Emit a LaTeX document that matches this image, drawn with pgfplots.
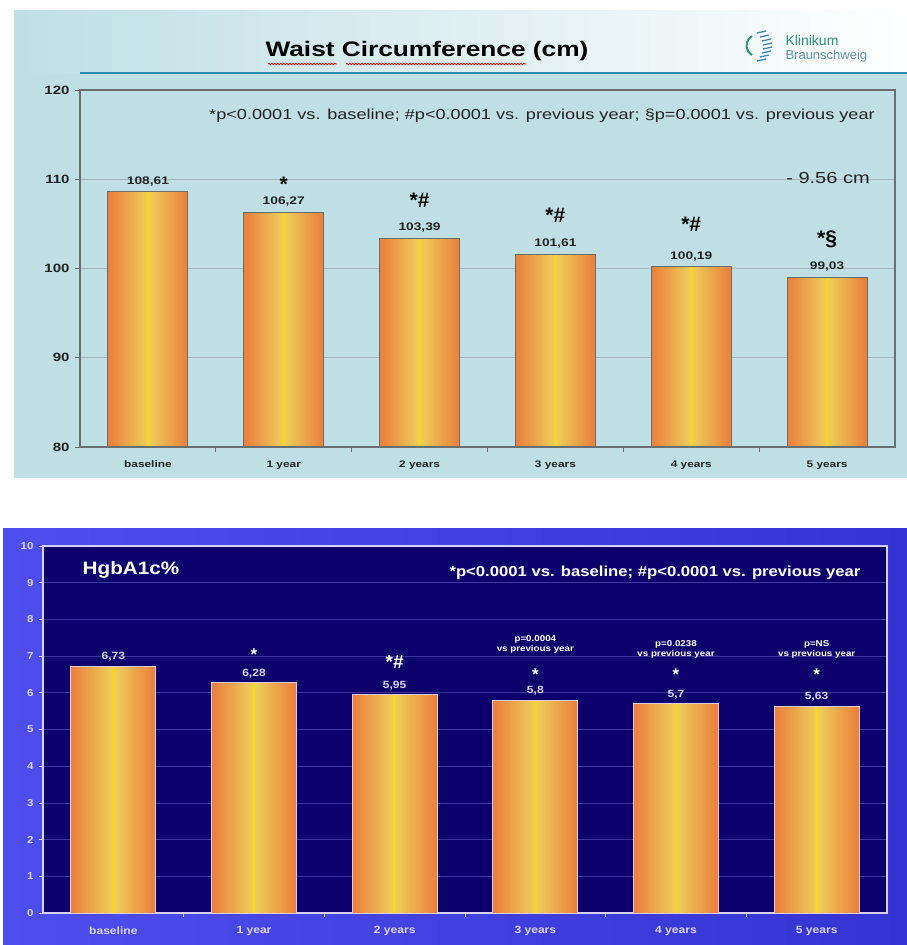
\documentclass[border=0pt]{standalone}
\usepackage{fontspec}
\setmainfont{Liberation Sans}
\newfontfamily\topf[FakeStretch=1.25]{Liberation Sans}
\newfontfamily\botf[FakeStretch=1.15]{Liberation Sans}
\usepackage{pgfplots}
\usepackage{pgfplotstable}
\pgfplotsset{compat=1.18}
\pgfkeys{/pgf/number format/assume math mode=true}
\usetikzlibrary{decorations.pathmorphing}

\definecolor{panelblue}{RGB}{191,223,229}
\definecolor{tealline}{RGB}{36,140,170}
\definecolor{barorange}{RGB}{234,126,60}
\definecolor{baryellow}{RGB}{238,208,92}
\definecolor{stripe}{RGB}{250,212,40}
\definecolor{topframe}{RGB}{105,110,112}
\definecolor{topgrid}{RGB}{165,185,190}
\definecolor{toptext}{RGB}{35,35,35}
\definecolor{botL}{RGB}{78,78,236}
\definecolor{botR}{RGB}{52,52,210}
\definecolor{navy}{RGB}{12,0,108}
\definecolor{botgrid}{RGB}{60,50,160}
\definecolor{lavender}{RGB}{215,210,245}
\definecolor{botbarline}{RGB}{225,205,225}
\definecolor{logogreen}{RGB}{40,150,120}
\definecolor{logogray}{RGB}{95,150,165}
\definecolor{logoblue}{RGB}{60,130,190}

\pgfplotstableread{
x  waist
0  108.61
1  106.27
2  103.39
3  101.61
4  100.19
5  99.03
}\waisttable

\pgfplotstableread{
x  hba
0  6.73
1  6.28
2  5.95
3  5.8
4  5.7
5  5.63
}\hbatable

\pgfplotsset{
  gradbar/.style={bar shift=0pt, draw=none, left color=barorange, right color=barorange, middle color=baryellow},
}

\begin{document}
\begin{tikzpicture}[x=1pt,y=1pt]
\useasboundingbox (0,0) rectangle (907,-945);
\fill[white] (0,0) rectangle (907,-945);

% ---------- upper slide: waist circumference ----------
\fill[panelblue] (14,-10) rectangle (907,-478);
\shade[left color=panelblue, right color=white] (14,-10) rectangle (907,-73);
\draw[tealline, line width=1.6pt] (80,-73) -- (907,-73);

\node[font=\topf\bfseries\fontsize{21}{24}\selectfont, text=black] at (427,-51) {Waist Circumference (cm)};
\draw[red, line width=0.7pt, decorate, decoration={snake, amplitude=0.8pt, segment length=3pt}] (268,-64) -- (337,-64);
\draw[red, line width=0.7pt, decorate, decoration={snake, amplitude=0.8pt, segment length=3pt}] (346,-64) -- (526,-64);

% hospital logo
\draw[logogreen, line width=2pt] (752,-36) arc (120:240:11);
\foreach \yy/\xx in {33/757,37/760,41/762,45/763,49/763,53/762,57/760,61/757}
  \draw[logoblue, line width=1.3pt] (\xx,-\yy) -- ++(9,2);
\node[anchor=west, font=\fontsize{14}{16}\selectfont, text=logogreen] at (782,-40) {Klinikum};
\node[anchor=west, font=\fontsize{13}{15}\selectfont, text=logogray] at (782,-56) {Braunschweig};

\begin{axis}[
  at={(80pt,-447pt)}, anchor=south west,
  scale only axis, width=815pt, height=357pt,
  xmin=-0.5, xmax=5.5, ymin=80, ymax=120,
  ytick={80,90,100,110,120},
  xtick={0,1,2,3,4,5},
  xticklabels={baseline,1 year,2 years,3 years,4 years,5 years},
  minor xtick={0.5,1.5,2.5,3.5,4.5},
  major x tick style={draw=none},
  minor tick length=5pt, major tick length=5pt,
  tick align=outside, xtick pos=bottom, ytick pos=left,
  y tick style={topframe, line width=1pt},
  minor x tick style={topframe, line width=1pt},
  ymajorgrids, grid style={topgrid, line width=0.8pt},
  axis line style={topframe, line width=1.3pt},
  ticklabel style={font=\topf\bfseries, text=toptext},
  yticklabel style={font=\topf\bfseries\fontsize{12}{12}\selectfont, xshift=-2pt},
  xticklabel style={font=\topf\bfseries\fontsize{9.5}{10}\selectfont, yshift=-5pt},
  ybar, bar width=80pt,
]
% one shaded bar per time point
\addplot[gradbar] coordinates {(0,108.61)};
\addplot[gradbar] coordinates {(1,106.27)};
\addplot[gradbar] coordinates {(2,103.39)};
\addplot[gradbar] coordinates {(3,101.61)};
\addplot[gradbar] coordinates {(4,100.19)};
\addplot[gradbar] coordinates {(5,99.03)};
\addplot[bar shift=0pt, bar width=3pt, draw=none, fill=stripe]
  table[x=x, y=waist] {\waisttable};
\addplot[bar shift=0pt, draw=topframe, line width=1.1pt, fill=none,
  nodes near coords={\pgfmathprintnumber[use comma, fixed, precision=2]{\pgfplotspointmeta}},
  every node near coord/.append style={font=\topf\bfseries\fontsize{11}{12}\selectfont, text=toptext, yshift=2pt}]
  table[x=x, y=waist] {\waisttable};

\node[font=\bfseries\fontsize{21}{21}\selectfont] at (axis cs:1,109.4) {*};
\node[font=\bfseries\fontsize{21}{21}\selectfont] at (axis cs:2,107.6) {*\#};
\node[font=\bfseries\fontsize{21}{21}\selectfont] at (axis cs:3,106.0) {*\#};
\node[font=\bfseries\fontsize{21}{21}\selectfont] at (axis cs:4,104.9) {*\#};
\node[font=\bfseries\fontsize{21}{21}\selectfont] at (axis cs:5,103.3) {*\S};
\end{axis}

\node[font=\topf\fontsize{14.5}{16}\selectfont, text=toptext] at (542,-116)
  {*p<0.0001 vs. baseline; \#p<0.0001 vs. previous year; \S p=0.0001 vs. previous year};
\node[font=\topf\fontsize{16}{17}\selectfont, text=toptext] at (828,-178) {- 9.56 cm};

% ---------- lower slide: HbA1c ----------
\shade[left color=botL, right color=botR] (3,-528) rectangle (907,-945);

\begin{axis}[
  at={(43pt,-913pt)}, anchor=south west,
  scale only axis, width=844pt, height=367pt,
  xmin=-0.5, xmax=5.5, ymin=0, ymax=10,
  ytick={0,1,...,10},
  xtick={0,1,2,3,4,5},
  xticklabels={baseline,1 year,2 years,3 years,4 years,5 years},
  minor xtick={0.5,1.5,2.5,3.5,4.5},
  major x tick style={draw=none},
  minor tick length=4pt, major tick length=4pt,
  tick align=outside, xtick pos=bottom, ytick pos=left,
  y tick style={lavender, line width=0.8pt},
  minor x tick style={lavender, line width=0.8pt},
  axis background/.style={fill=navy},
  ymajorgrids, grid style={botgrid, line width=0.8pt},
  axis line style={lavender, line width=1.1pt},
  yticklabel style={font=\botf\bfseries\fontsize{10}{10}\selectfont, text=lavender, xshift=-2pt},
  xticklabel style={font=\botf\bfseries\fontsize{10.5}{11}\selectfont, text=lavender, yshift=-6pt},
  ybar, bar width=85pt,
]
\addplot[gradbar] coordinates {(0,6.73)};
\addplot[gradbar] coordinates {(1,6.28)};
\addplot[gradbar] coordinates {(2,5.95)};
\addplot[gradbar] coordinates {(3,5.8)};
\addplot[gradbar] coordinates {(4,5.7)};
\addplot[gradbar] coordinates {(5,5.63)};
\addplot[bar shift=0pt, bar width=3pt, draw=none, fill=stripe]
  table[x=x, y=hba] {\hbatable};
\addplot[bar shift=0pt, draw=botbarline, line width=1pt, fill=none,
  nodes near coords={\pgfmathprintnumber[use comma, fixed, precision=2]{\pgfplotspointmeta}},
  every node near coord/.append style={font=\botf\bfseries\fontsize{10.5}{11}\selectfont, text=lavender, yshift=1pt}]
  table[x=x, y=hba] {\hbatable};

\node[font=\bfseries\fontsize{17}{17}\selectfont, text=white] at (axis cs:1,7.05) {*};
\node[font=\bfseries\fontsize{19}{19}\selectfont, text=white] at (axis cs:2,6.85) {*\#};
\node[font=\bfseries\fontsize{17}{17}\selectfont, text=white] at (axis cs:3,6.5) {*};
\node[font=\bfseries\fontsize{17}{17}\selectfont, text=white] at (axis cs:4,6.5) {*};
\node[font=\bfseries\fontsize{17}{17}\selectfont, text=white] at (axis cs:5,6.5) {*};
\node[font=\botf\bfseries\fontsize{8.5}{10}\selectfont, text=white, align=center] at (axis cs:3,7.33) {p=0.0004\\vs previous year};
\node[font=\botf\bfseries\fontsize{8.5}{10}\selectfont, text=white, align=center] at (axis cs:4,7.17) {p=0.0238\\vs previous year};
\node[font=\botf\bfseries\fontsize{8.5}{10}\selectfont, text=white, align=center] at (axis cs:5,7.17) {p=NS\\vs previous year};
\end{axis}

\node[font=\botf\bfseries\fontsize{18}{20}\selectfont, text=white] at (131,-570) {HgbA1c\%};
\node[font=\botf\bfseries\fontsize{14.5}{16}\selectfont, text=white] at (655,-573)
  {*p<0.0001 vs. baseline; \#p<0.0001 vs. previous year};
\end{tikzpicture}
\end{document}
